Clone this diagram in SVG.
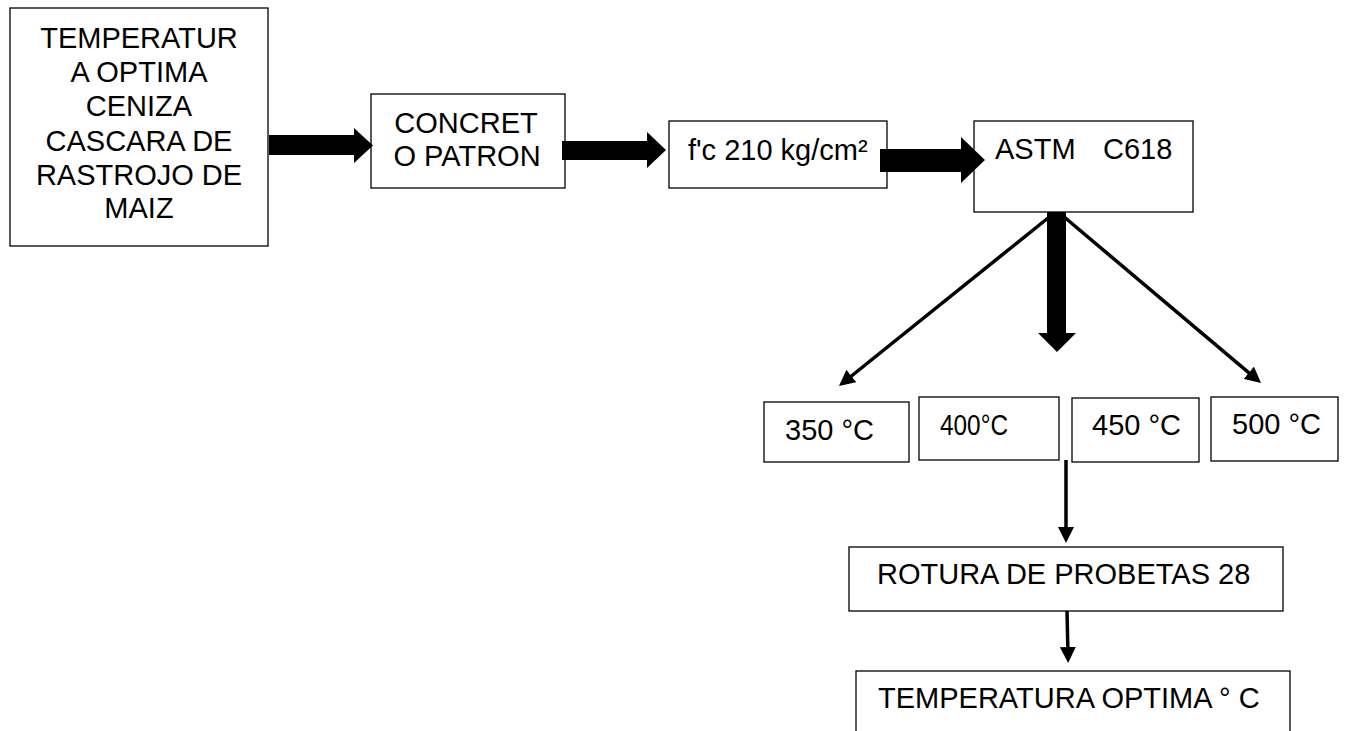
<svg xmlns="http://www.w3.org/2000/svg" width="1347" height="731" viewBox="0 0 1347 731">
<style>
.box{fill:#fff;stroke:#000;stroke-width:1.3}
.t{font-family:"Liberation Sans",Arial,sans-serif;font-size:29px;fill:#000}
.c{text-anchor:middle}
.fat{fill:#000}
.thin{stroke:#000;stroke-width:3.5;fill:none}
</style>
<defs>
<marker id="ah" markerUnits="userSpaceOnUse" markerWidth="17" markerHeight="16" refX="8" refY="8" orient="auto">
<path d="M0,0 L16,8 L0,16 z" fill="#000"/>
</marker>
</defs>
<rect width="1347" height="731" fill="#fff"/>
<g id="n1">
<rect class="box" x="10" y="8" width="258" height="238"/>
<text class="t c" x="139" y="48">TEMPERATUR</text>
<text class="t c" x="139" y="82">A OPTIMA</text>
<text class="t c" x="139" y="116">CENIZA</text>
<text class="t c" x="139" y="151">CASCARA DE</text>
<text class="t c" x="139" y="185">RASTROJO DE</text>
<text class="t c" x="139" y="218">MAIZ</text>
</g>
<g id="n2">
<rect class="box" x="371" y="94" width="194" height="94"/>
<text class="t c" x="466" y="133">CONCRET</text>
<text class="t c" x="467" y="166">O PATRON</text>
</g>
<g id="n3">
<rect class="box" x="669" y="121" width="218" height="67"/>
<text class="t" x="688" y="160">f'c 210 kg/cm²</text>
</g>
<g id="n4">
<rect class="box" x="974" y="121" width="219" height="91"/>
<text class="t" x="995" y="159">ASTM<tspan x="1103">C618</tspan></text>
</g>
<g id="n5">
<rect class="box" x="764" y="402" width="145" height="60"/>
<text class="t" x="785" y="440">350 °C</text>
</g>
<g id="n6">
<rect class="box" x="919" y="397" width="140" height="63"/>
<text class="t" x="940" y="435" font-size="28" textLength="68" lengthAdjust="spacingAndGlyphs">400°C</text>
</g>
<g id="n7">
<rect class="box" x="1072" y="398" width="127" height="64"/>
<text class="t" x="1092" y="435">450 °C</text>
</g>
<g id="n8">
<rect class="box" x="1211" y="397" width="127" height="64"/>
<text class="t" x="1232" y="434">500 °C</text>
</g>
<g id="n9">
<rect class="box" x="849" y="547" width="434" height="64"/>
<text class="t" x="877" y="584">ROTURA DE PROBETAS 28</text>
</g>
<g id="n10">
<rect class="box" x="856" y="671" width="434" height="80"/>
<text class="t" x="878" y="708">TEMPERATURA OPTIMA ° C</text>
</g>
<g id="connectors">
<polygon class="fat" points="269,135 354,135 354,128 373,145.5 354,163 354,155 269,155"/>
<polygon class="fat" points="562,141 647,141 647,132 666,150 647,168 647,160 562,160"/>
<polygon class="fat" points="880,149 961,149 961,137 985,160 961,183 961,172 880,172"/>
<polygon class="fat" points="1047,212 1066,212 1066,333 1076,333 1057,352 1038,333 1047,333"/>
<line class="thin" x1="1053" y1="214" x2="845.2" y2="381" marker-end="url(#ah)"/>
<line class="thin" x1="1063" y1="216" x2="1254.9" y2="377.9" marker-end="url(#ah)"/>
<line class="thin" x1="1066" y1="460" x2="1066" y2="535" marker-end="url(#ah)"/>
<line class="thin" x1="1067" y1="611" x2="1068" y2="655" marker-end="url(#ah)"/>
</g>
</svg>
